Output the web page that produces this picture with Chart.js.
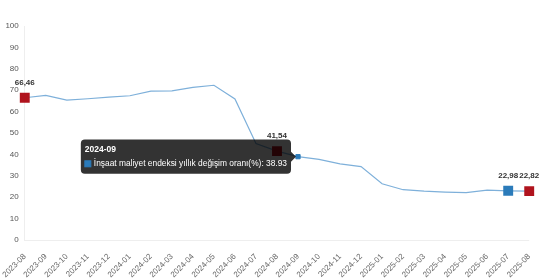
<!DOCTYPE html>
<html>
<head>
<meta charset="utf-8">
<script src="https://cdn.jsdelivr.net/npm/chart.js@4.4.1/dist/chart.umd.min.js"></script>
<style>
    html, body { margin: 0; padding: 0; background: #fff; }
    #wrap { width: 540px; height: 278px; position: relative; }
</style>
</head>
<body>
<div id="wrap"><canvas id="chart"></canvas></div>
<script>
// Données : taux de variation annuel de l'indice du coût de construction
const months = ['2023-08','2023-09','2023-10','2023-11','2023-12','2024-01','2024-02','2024-03',
    '2024-04','2024-05','2024-06','2024-07','2024-08','2024-09','2024-10','2024-11','2024-12',
    '2025-01','2025-02','2025-03','2025-04','2025-05','2025-06','2025-07','2025-08'];
const rates = [66.46, 67.6, 65.4, 66.0, 66.8, 67.4, 69.6, 69.7, 71.3, 72.3, 65.9, 45.1, 41.54,
    38.93, 37.7, 35.6, 34.3, 26.3, 23.5, 22.8, 22.4, 22.1, 23.3, 22.98, 22.82];
const yTicks = [0, 10, 20, 30, 40, 50, 60, 70, 80, 90, 100];
const seriesLabel = 'İnşaat maliyet endeksi yıllık değişim oranı(%)';
// Points mis en évidence
const redPoints = [0, 12, 24];
const bluePoints = [23];
const hoverIndex = 13;

const RED = '#b0131d';
const BLUE = '#2b7bba';
const LINE = '#7eb0da';
const FONT = '"Liberation Sans", Arial, sans-serif';

function isMarked(i) {
    return redPoints.includes(i) || bluePoints.includes(i);
}
function markColor(i) {
    return redPoints.includes(i) ? RED : BLUE;
}

// Étiquettes au-dessus des points mis en évidence
const pointLabels = {
    id: 'pointLabels',
    afterDatasetsDraw(chart) {
        const ctx = chart.ctx;
        const meta = chart.getDatasetMeta(0);
        ctx.save();
        ctx.font = 'bold 8px ' + FONT;
        ctx.fillStyle = '#333';
        ctx.textAlign = 'center';
        ctx.textBaseline = 'middle';
        meta.data.forEach((pt, i) => {
            if (!isMarked(i)) return;
            ctx.fillText(rates[i].toFixed(2).replace('.', ','), pt.x, pt.y - 15);
        });
        ctx.restore();
    }
};

const chart = new Chart(document.getElementById('chart'), {
    type: 'line',
    data: {
        labels: months,
        datasets: [{
            label: seriesLabel,
            data: rates,
            borderColor: LINE,
            borderWidth: 1.2,
            tension: 0,
            pointStyle: 'rect',
            pointRadius: rates.map((v, i) => isMarked(i) ? 7 : 0),
            pointBackgroundColor: rates.map((v, i) => isMarked(i) ? markColor(i) : BLUE),
            pointBorderColor: rates.map((v, i) => isMarked(i) ? markColor(i) : BLUE),
            pointBorderWidth: 0,
            pointHoverRadius: rates.map((v, i) => isMarked(i) ? 7 : 3),
            pointHoverBackgroundColor: rates.map((v, i) => isMarked(i) ? markColor(i) : BLUE),
            pointHoverBorderColor: rates.map((v, i) => isMarked(i) ? markColor(i) : BLUE),
            pointHoverBorderWidth: 1
        }]
    },
    options: {
        responsive: true,
        maintainAspectRatio: false,
        animation: false,
        layout: { padding: { top: 26, right: 9, left: 0, bottom: 0 } },
        interaction: { mode: 'index', intersect: false },
        plugins: {
            legend: { display: false },
            tooltip: {
                xAlign: 'right',
                yAlign: 'center',
                backgroundColor: 'rgba(0,0,0,0.8)',
                titleFont: { family: FONT, size: 8.5, weight: 'bold' },
                bodyFont: { family: FONT, size: 8.4 },
                titleColor: '#fff',
                bodyColor: '#fff',
                padding: { left: 4, right: 4, top: 5, bottom: 5 },
                caretSize: 5,
                cornerRadius: 4,
                boxWidth: 6,
                boxHeight: 6,
                boxPadding: 1,
                multiKeyBackground: BLUE,
                titleMarginBottom: 4,
                callbacks: {
                    label: function(context) {
                        return context.dataset.label + ': ' + context.parsed.y.toFixed(2);
                    },
                    labelColor: function() {
                        return { borderColor: BLUE, backgroundColor: BLUE, borderWidth: 0 };
                    }
                }
            }
        },
        scales: {
            x: {
                grid: { display: false },
                border: { display: false },
                ticks: {
                    color: '#666',
                    font: { family: FONT, size: 8 },
                    maxRotation: 45,
                    minRotation: 45,
                    autoSkip: false,
                    padding: 4
                },
                afterFit(axis) { axis.height = 38; }
            },
            y: {
                min: 0,
                max: 100,
                afterBuildTicks(axis) { axis.ticks = yTicks.map(v => ({ value: v })); },
                grid: {
                    display: true,
                    drawTicks: false,
                    color: ctx => ctx.tick && ctx.tick.value === 0 ? '#eeeeee' : 'rgba(0,0,0,0)'
                },
                border: { display: true, color: '#eeeeee' },
                ticks: {
                    color: '#555',
                    font: { family: FONT, size: 8 },
                    padding: 6
                },
                afterFit(axis) { axis.width = 24; }
            }
        }
    },
    plugins: [pointLabels]
});

// Activer l'infobulle sur 2024-09
const meta = chart.getDatasetMeta(0);
const hp = meta.data[hoverIndex];
chart.setActiveElements([{ datasetIndex: 0, index: hoverIndex }]);
chart.tooltip.setActiveElements([{ datasetIndex: 0, index: hoverIndex }], { x: hp.x, y: hp.y });
chart.update('none');
</script>
</body>
</html>
